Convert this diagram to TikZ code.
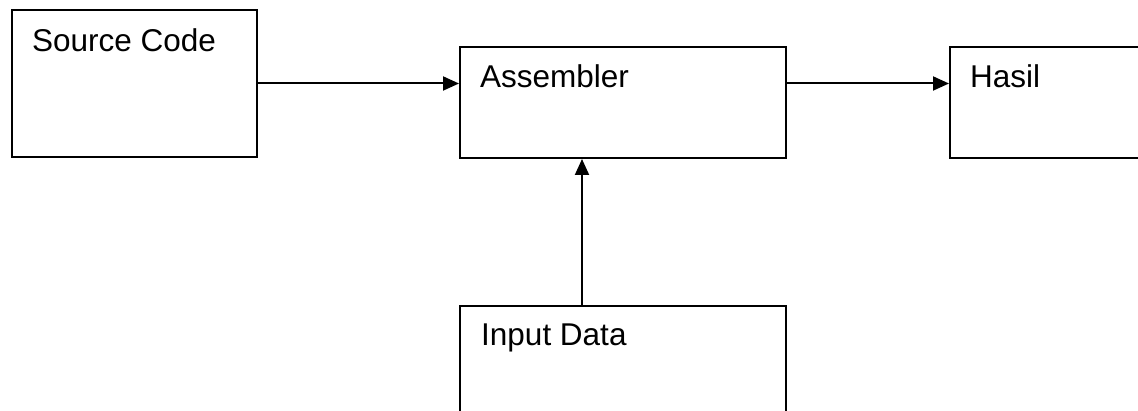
\documentclass[tikz,border=0pt]{standalone}
\usepackage{fontspec}
\setmainfont{Liberation Sans}
\usetikzlibrary{arrows.meta}
\begin{document}
\begin{tikzpicture}[x=1pt,y=-1pt,
  block/.style={draw=black, line width=2pt, fill=white, inner sep=0pt, anchor=north west},
  label/.style={anchor=base west, inner sep=0pt, font=\fontsize{31.5pt}{36pt}\selectfont},
  arr/.style={line width=2pt, -{Triangle[length=16pt,width=14pt]}}]
  \useasboundingbox (0,0) rectangle (1138,411);
  \clip (0,0) rectangle (1138,411);
  % blocks
  \node[block, minimum width=245pt, minimum height=147pt] (src) at (11,9) {};
  \node[block, minimum width=326pt, minimum height=111pt] (asm) at (459,46) {};
  \node[block, minimum width=200pt, minimum height=111pt] (hasil) at (949,46) {};
  \node[block, minimum width=326pt, minimum height=130pt] (inp) at (459,305) {};
  % captions
  \node[label] (tsrc) at (32,52) {Source Code};
  \node[label] (tasm) at (480,88) {Assembler};
  \node[label] (thasil) at (970,88) {Hasil};
  \node[label] (tinp) at (481,346) {Input Data};
  % connectors
  \coordinate (tap) at (582,0);
  \draw[arr] (src.east) -- (src.east -| asm.west);
  \draw[arr] (asm.east |- src.east) -- (hasil.west |- src.east);
  \draw[arr] (inp.north -| tap) -- (asm.south -| tap);
\end{tikzpicture}
\end{document}
